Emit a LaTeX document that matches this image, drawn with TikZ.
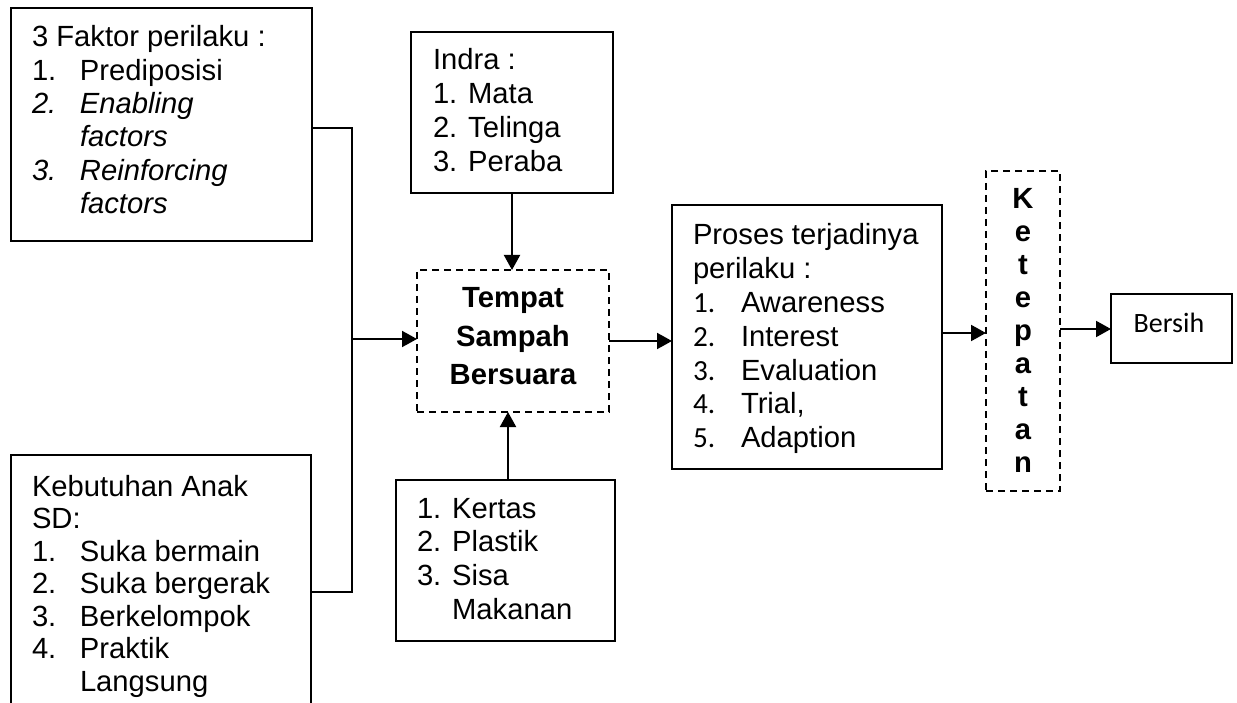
\documentclass[tikz,border=0pt]{standalone}
\usepackage{fontspec}
\setmainfont{Liberation Sans}
\newfontfamily\calib{Carlito}
\usetikzlibrary{arrows.meta}
\newcommand{\fsz}[1]{\fontsize{29.2}{#1}\selectfont}
\begin{document}
\begin{tikzpicture}[x=1pt,y=-1pt,
  box/.style={draw, line width=1.8pt, inner sep=0pt, outer sep=0pt},
  dbox/.style={draw, line width=1.3pt, dash pattern=on 7pt off 5pt, inner sep=0pt, outer sep=0pt},
  arr/.style={line width=2pt, -{Triangle[length=15pt,width=16pt]}},
  ln/.style={line width=2pt},
  txt/.style={anchor=base west, inner sep=0pt, outer sep=0pt, align=left}]
\useasboundingbox (0,0) rectangle (1237,703);
\clip (0,0) rectangle (1237,703);
% boxes
\node[box, minimum width=301pt, minimum height=233pt] (f) at (161.5,124.5) {};
\node[box, minimum width=300pt, minimum height=285pt] (k) at (161,597.5) {};
\node[box, minimum width=202pt, minimum height=161pt] (ind) at (512,112.5) {};
\node[dbox, minimum width=192pt, minimum height=142pt] (t) at (513,341) {};
\node[box, minimum width=219pt, minimum height=161pt] (ker) at (505.5,560.5) {};
\node[box, minimum width=270pt, minimum height=264pt] (p) at (807,337) {};
\node[dbox, minimum width=74pt, minimum height=320pt] (ket) at (1023,331) {};
\node[box, minimum width=121pt, minimum height=69pt] (b) at (1171.5,328.5) {};
% texts
\node[txt] (ftxt) at (32,47) {\fsz{33.3}\begin{tabular}[t]{@{}p{48pt}@{}l@{}}
\multicolumn{2}{@{}l@{}}{3 Faktor perilaku :}\\
1. & Prediposisi\\
\textit{2.} & \textit{Enabling}\\
 & \textit{factors}\\
\textit{3.} & \textit{Reinforcing}\\
 & \textit{factors}
\end{tabular}};
\node[txt] (ktxt) at (32,496) {\fsz{32.5}\begin{tabular}[t]{@{}p{48pt}@{}l@{}}
\multicolumn{2}{@{}l@{}}{Kebutuhan Anak}\\
\multicolumn{2}{@{}l@{}}{SD:}\\
1. & Suka bermain\\
2. & Suka bergerak\\
3. & Berkelompok\\
4. & Praktik\\
 & Langsung
\end{tabular}};
\node[txt] (itxt) at (433,70) {\fsz{33.7}\begin{tabular}[t]{@{}l@{}}
Indra :\\
1. Mata\\
2. Telinga\\
3. Peraba
\end{tabular}};
\node[txt] (kertxt) at (417,518) {\fsz{33.7}\begin{tabular}[t]{@{}l@{}}
1. Kertas\\
2. Plastik\\
3. Sisa\\
\phantom{3. }Makanan
\end{tabular}};
\node[txt] (ptxt) at (693,245) {\fsz{33.8}\begin{tabular}[t]{@{}p{48pt}@{}l@{}}
\multicolumn{2}{@{}l@{}}{Proses terjadinya}\\
\multicolumn{2}{@{}l@{}}{perilaku :}\\
{\calib 1.} & Awareness\\
{\calib 2.} & Interest\\
{\calib 3.} & Evaluation\\
{\calib 4.} & Trial,\\
{\calib 5.} & Adaption
\end{tabular}};
\node[anchor=base, inner sep=0pt] (ttxt) at (513,308) {\fsz{38.5}\bfseries\begin{tabular}[t]{@{}c@{}}
Tempat\\ Sampah\\ Bersuara
\end{tabular}};
\node[anchor=base, inner sep=0pt] (kettxt) at (1023,209) {\fsz{33}\bfseries\begin{tabular}[t]{@{}c@{}}
K\\ e\\ t\\ e\\ p\\ a\\ t\\ a\\ n
\end{tabular}};
\node[anchor=base, inner sep=0pt] (btxt) at (1169,333) {\calib\fontsize{28}{33}\selectfont Bersih};
% connectors
\coordinate (jt) at (352,128);
\coordinate (jm) at (352,339);
\coordinate (jb) at (352,592);
\draw[ln] (f.east |- jt) -- (jt) -- (jb) -- (k.east |- jb);
\draw[arr] (jm) -- (jm -| t.west);
\draw[arr] (ind.south) -- (ind.south |- t.north);
\draw[arr] ([xshift=2.5pt]ker.north) -- ([xshift=2.5pt]ker.north |- t.south);
\draw[arr] (t.east) -- (t.east -| p.west);
\draw[arr] (p.east |- 0,333) -- (ket.west |- 0,333);
\draw[arr] (ket.east |- 0,329) -- (b.west |- 0,329);
\end{tikzpicture}
\end{document}
